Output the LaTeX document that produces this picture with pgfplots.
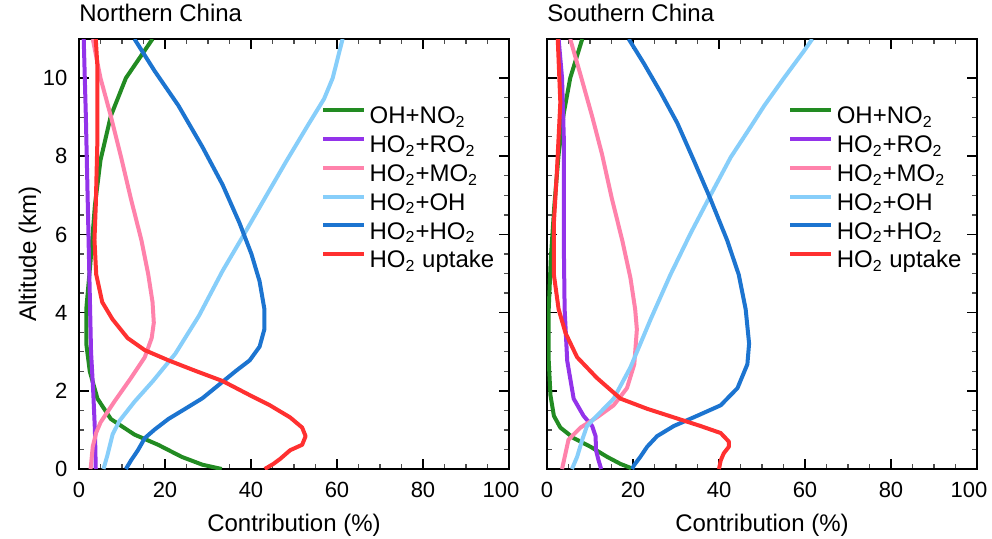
\documentclass[border=0pt]{standalone}
\usepackage{fontspec}
\setmainfont{Liberation Sans}
\usepackage{pgfplots}
\pgfplotsset{compat=1.18}

\definecolor{cNO}{RGB}{34,139,34}
\definecolor{cRO}{RGB}{147,51,234}
\definecolor{cMO}{RGB}{255,130,171}
\definecolor{cOH}{RGB}{135,206,250}
\definecolor{cHO}{RGB}{28,116,208}
\definecolor{cUP}{RGB}{255,48,48}

\newcommand{\sub}{\textsubscript{2}}

\pgfplotsset{
  panel/.style={
    scale only axis,
    width=215pt, height=215pt,
    xmin=0, xmax=100, ymin=0, ymax=11,
    xtick={0,20,...,100}, ytick={0,2,...,10},
    xticklabels={0,20,40,60,80,\hspace*{-8pt}100},
    minor x tick num=3, minor y tick num=3,
    tick align=inside, tick pos=both,
    major tick length=5pt, minor tick length=2.5pt,
    axis line style={line width=0.9pt},
    every tick/.style={black, line width=0.8pt},
    minor tick style={line width=0.6pt, black!70},
    /pgf/number format/assume math mode=true,
    ticklabel style={font=\fontsize{11}{13}\selectfont},
    xticklabel style={yshift=-3.2pt},
    yticklabel style={xshift=-2.3pt},
    label style={font=\fontsize{12}{14}\selectfont},
    xlabel={Contribution (\%)}, xlabel shift=1pt,
    title style={at={(0,1)}, anchor=base west, inner sep=0pt, yshift=3pt,
      font=\fontsize{12}{14}\selectfont},
    legend cell align=left,
    legend image code/.code={\draw[#1] (0pt,3.8pt) -- (20.5pt,3.8pt);},
    legend style={draw=none, fill=none, inner sep=0pt, anchor=north west,
      row sep=2.4pt,
      font=\fontsize{12}{14}\selectfont,
      nodes={inner xsep=1.8pt, inner ysep=0pt, text height=9pt, text depth=3pt}},
    every axis plot/.append style={line width=2pt, line join=round},
  }
}

\begin{document}
\begin{tikzpicture}
\begin{axis}[panel, name=left, title={Northern China},
    ylabel={Altitude (km)}, ylabel shift=-6pt,
    legend style={at={(axis cs:56.2,9.30)}}]
\addplot[cNO] coordinates {(17.1,11) (10.9,10) (7.4,9.03) (5.0,7.9) (3.7,6.74) (2.7,5.33) (1.7,4.1) (1.7,3.2) (2.5,2.5) (4.3,1.8) (7.4,1.28) (12.9,0.88) (18.4,0.62) (23.9,0.31) (28.7,0.11) (33.2,0)};
\addplot[cRO] coordinates {(1.1,11) (1.6,9) (2.0,7) (2.4,5) (2.8,3) (3.3,2) (3.7,1) (3.9,0)};
\addplot[cMO] coordinates {(3.2,11) (5.0,10) (7.4,9.03) (9.8,7.97) (12.1,6.9) (14.5,5.86) (16.1,4.98) (17.1,4.27) (17.4,3.74) (16.9,3.35) (15.3,2.86) (12.1,2.33) (8.2,1.72) (5.0,1.19) (4.0,0.93) (3.2,0.57) (2.7,0)};
\addplot[cOH] coordinates {(61.3,11) (59.0,10) (57.0,9.47) (53.1,8.77) (48.3,7.89) (43.6,7.0) (38.1,5.95) (33.4,5.07) (27.9,3.92) (22.4,2.95) (17.2,2.25) (12.9,1.72) (9.4,1.23) (7.8,0.88) (6.6,0.35) (5.7,0)};
\addplot[cHO] coordinates {(12.9,11) (17.6,10.18) (23.1,9.3) (28.7,8.24) (33.4,7.27) (37.3,6.3) (40.1,5.5) (42.0,4.8) (43.1,4.1) (43.1,3.57) (42.0,3.13) (39.7,2.78) (36.5,2.51) (32.6,2.16) (28.7,1.81) (24.7,1.54) (20.8,1.28) (17.6,1.01) (15.3,0.79) (13.7,0.48) (12.1,0.22) (10.9,0)};
\addplot[cUP] coordinates {(3.9,11) (4.3,10.26) (4.3,8.5) (3.9,6.74) (3.6,5.86) (4.0,4.98) (5.4,4.27) (7.8,3.83) (11.3,3.35) (15.3,3.04) (20.8,2.78) (27.1,2.51) (33.4,2.25) (39.7,1.89) (44.4,1.63) (49.1,1.32) (51.9,1.06) (52.7,0.84) (51.9,0.62) (49.1,0.48) (46.8,0.26) (45.2,0.13) (43.2,0)};
\legend{OH+NO\sub, HO\sub+RO\sub, HO\sub+MO\sub, HO\sub+OH, HO\sub+HO\sub, HO\sub\ uptake}
\end{axis}

\begin{axis}[panel, at={(234pt,0)}, yticklabels={}, title={Southern China},
    legend style={at={(axis cs:56.0,9.30)}}]
\addplot[cNO] coordinates {(8.2,11) (5.4,10) (3.9,9.1) (2.7,8.05) (1.7,6.73) (0.9,5.41) (0.4,4.09) (0.4,2.77) (0.8,1.89) (1.6,1.36) (3.1,1.06) (6.2,0.79) (10.1,0.57) (14.0,0.31) (17.1,0.13) (19.4,0.03) (19.6,0)};
\addplot[cRO] coordinates {(2.7,11) (3.5,10) (3.9,8.5) (3.9,5.85) (4.1,4.09) (4.7,2.77) (6.2,1.8) (8.5,1.36) (10.5,1.1) (11.3,0.84) (11.4,0.48) (12.0,0.22) (12.6,0)};
\addplot[cMO] coordinates {(5.4,11) (7.8,10.08) (10.5,9.02) (12.8,8.05) (15.1,6.91) (17.5,5.85) (19.4,4.89) (20.5,4.09) (20.9,3.57) (20.3,2.68) (18.6,2.07) (15.5,1.63) (11.6,1.32) (7.8,1.06) (5.0,0.75) (4.3,0.40) (3.5,0)};
\addplot[cOH] coordinates {(61.7,11) (59.8,10.7) (55.1,10.0) (50.5,9.29) (47.4,8.76) (42.7,7.97) (38.0,7.0) (33.4,6.03) (28.7,4.97) (24.1,3.83) (19.4,2.6) (15.5,1.8) (11.6,1.36) (9.3,1.1) (8.2,0.75) (7.0,0.31) (5.8,0)};
\addplot[cHO] coordinates {(19.0,11) (22.5,10.38) (26.4,9.64) (30.3,8.85) (34.2,7.88) (38.0,6.91) (41.9,5.85) (44.6,4.97) (46.2,4.09) (47.0,3.21) (46.6,2.68) (44.3,2.07) (40.4,1.63) (34.9,1.36) (29.5,1.1) (25.6,0.84) (23.3,0.57) (21.7,0.31) (20.2,0.09) (19.8,0)};
\addplot[cUP] coordinates {(2.5,11) (3.1,9.38) (2.3,7.6) (1.6,6.29) (1.6,4.97) (2.7,4.09) (4.3,3.48) (7.0,2.86) (11.6,2.33) (17.1,1.8) (23.3,1.54) (29.5,1.32) (35.7,1.1) (40.4,0.92) (42.3,0.7) (42.3,0.57) (41.1,0.40) (40.4,0.22) (40.0,0)};
\legend{OH+NO\sub, HO\sub+RO\sub, HO\sub+MO\sub, HO\sub+OH, HO\sub+HO\sub, HO\sub\ uptake}
\end{axis}
\pgfresetboundingbox
\path[use as bounding box] (-39.5pt,-34.5pt) rectangle (456.5pt,234.5pt);
\end{tikzpicture}
\end{document}
